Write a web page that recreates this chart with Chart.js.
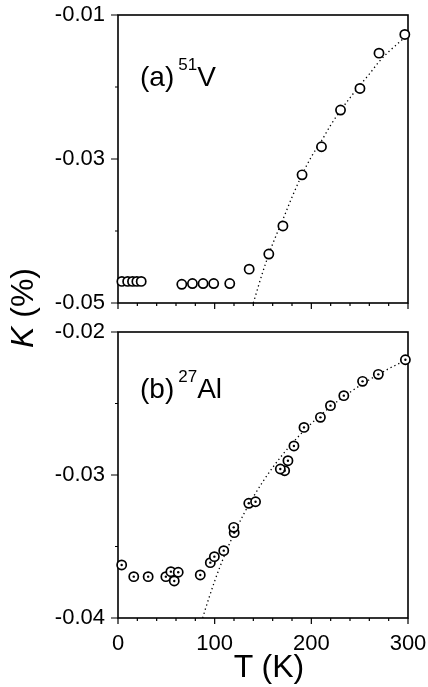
<!DOCTYPE html>
<html>
<head>
<meta charset="utf-8">
<script src="https://cdn.jsdelivr.net/npm/chart.js@4.4.1/dist/chart.umd.min.js"></script>
<style>
  html, body { margin: 0; padding: 0; background: #fff; }
  body { width: 428px; height: 687px; position: relative; overflow: hidden;
         font-family: 'Liberation Sans', Arial, sans-serif; color: #000; }
  canvas { position: absolute; left: 0; }
  .panel-label { position: absolute; font-size: 28px; line-height: 28px; white-space: nowrap; }
  .panel-label span { font-size: 17px; vertical-align: 16px; line-height: 0; margin-left: 4px; }
  .axis-title { position: absolute; font-size: 32px; line-height: 40px; height: 40px;
                text-align: center; white-space: nowrap; }
</style>
</head>
<body>
<canvas id="panelV" width="428" height="318" style="top:0"></canvas>
<canvas id="panelAl" width="428" height="369" style="top:318px"></canvas>

<div class="panel-label" style="left:140px; top:63px">(a)<span>51</span>V</div>
<div class="panel-label" style="left:140px; top:375px">(b)<span>27</span>Al</div>
<div class="axis-title" style="left:-38px; top:288px; width:120px; transform:rotate(-90deg)"><i>K</i> (%)</div>
<div class="axis-title" style="left:209px; top:646px; width:120px">T (K)</div>

<script>
// (a) 51V
const tempV = [4, 10, 15, 19.5, 24, 66, 77, 88, 99, 115.6, 135.7, 156, 170.6, 190.4, 210.5, 230.2, 250.3, 270, 296.7];
const shiftV = [-0.0470, -0.0470, -0.0470, -0.0470, -0.0470, -0.0474, -0.0473, -0.0473, -0.0473, -0.0473,
                -0.0453, -0.0432, -0.0393, -0.0322, -0.0283, -0.0232, -0.0202, -0.0153, -0.0127];
const fitTempV = [140, 150, 160, 170, 180, 190, 200, 210, 220, 230, 240, 250, 260, 270, 280, 290, 300];
const fitShiftV = [-0.0500, -0.0456, -0.0418, -0.0386, -0.0353, -0.0323, -0.0297, -0.0276, -0.0253, -0.0233,
                   -0.0215, -0.0198, -0.0182, -0.0165, -0.0151, -0.0139, -0.0127];

// (b) 27Al
const tempAl = [3.8, 16.3, 31.2, 49.5, 54.7, 58.2, 62.3, 85.1, 95.5, 99.7, 109.4, 120.2, 119.7, 135.3, 142.3,
                172.4, 167.9, 175.8, 182, 192.4, 209.4, 219.8, 233.6, 253, 269.3, 297.3];
const shiftAl = [-0.03629, -0.03711, -0.03711, -0.03711, -0.03676, -0.03741, -0.03680, -0.03699, -0.03613, -0.03571,
                 -0.03529, -0.03403, -0.03366, -0.03198, -0.03187, -0.02970, -0.02958, -0.02900, -0.02797, -0.02667,
                 -0.02597, -0.02515, -0.02445, -0.02345, -0.02296, -0.02194];
const fitTempAl = [87.6, 90, 100, 110, 120, 130, 140, 150, 160, 170, 180, 190, 200, 220, 240, 260, 280, 300];
const fitShiftAl = [-0.0400, -0.03946, -0.03742, -0.03565, -0.03410, -0.03274, -0.03153, -0.03045, -0.02948,
                    -0.02860, -0.02780, -0.02707, -0.02640, -0.02522, -0.02421, -0.02334, -0.02257, -0.02190];

// ticks
const tempTicks = [0, 100, 200, 300];
const shiftTicksV = [-0.05, -0.03, -0.01];
const shiftTicksAl = [-0.04, -0.03, -0.02];

function isMajor(value, list) {
  return list.some((m) => Math.abs(m - value) < 1e-9);
}

const frameTicks = {
  id: 'frameTicks',
  beforeDatasetsDraw(chart, args, opts) {
    const { ctx, chartArea: a, scales } = chart;
    ctx.save();
    ctx.strokeStyle = '#000';
    ctx.lineWidth = 1.6;
    ctx.strokeRect(a.left, a.top, a.right - a.left, a.bottom - a.top);
    ctx.lineWidth = 1.2;
    ctx.beginPath();
    scales.x.ticks.forEach((t) => {
      const px = scales.x.getPixelForValue(t.value);
      const len = isMajor(t.value, opts.xMajor) ? 6 : 3;
      ctx.moveTo(px, a.bottom);
      ctx.lineTo(px, a.bottom + len);
    });
    scales.y.ticks.forEach((t) => {
      const py = scales.y.getPixelForValue(t.value);
      const len = isMajor(t.value, opts.yMajor) ? 7 : 3;
      ctx.moveTo(a.left - len, py);
      ctx.lineTo(a.left, py);
    });
    ctx.stroke();
    ctx.restore();
  },
};

class ShiftPanel {
  constructor(canvas, settings) {
    this.canvas = canvas;
    this.settings = settings;
    this.createChart();
  }

  createChart() {
    const s = this.settings;
    const points = s.temps.map((t, i) => ({ x: t, y: s.shifts[i] }));
    const fit = s.fitTemps.map((t, i) => ({ x: t, y: s.fitShifts[i] }));
    const tickFont = { size: 22, family: "'Liberation Sans', Arial, sans-serif" };

    const datasets = [
      {
        data: points,
        pointStyle: 'circle',
        pointRadius: 4.6,
        pointBorderWidth: 1.7,
        pointBackgroundColor: '#fff',
        pointBorderColor: '#000',
        showLine: false,
        clip: false,
        order: 0,
      },
      {
        data: fit,
        showLine: true,
        pointRadius: 0,
        borderColor: '#000',
        borderWidth: 1.3,
        borderDash: [1.3, 3],
        cubicInterpolationMode: 'monotone',
        order: 1,
      },
    ];

    // centre dots for the Al markers
    if (s.dotted) {
      datasets.push({
        data: points,
        pointStyle: 'circle',
        pointRadius: 1.2,
        pointBorderWidth: 0,
        pointBackgroundColor: '#000',
        showLine: false,
        clip: false,
        order: -1,
      });
    }

    const options = {
      responsive: false,
      animation: false,
      events: [],
      devicePixelRatio: 1,
      layout: { padding: { top: s.top, right: 20, left: 0, bottom: 0 } },
      plugins: {
        legend: { display: false },
        tooltip: { enabled: false },
        frameTicks: { xMajor: tempTicks, yMajor: s.yMajor },
      },
      scales: {
        x: {
          type: 'linear',
          min: 0,
          max: 300,
          grid: { display: false, drawTicks: false },
          border: { display: false },
          ticks: {
            display: s.showX,
            stepSize: 20,
            padding: 13,
            color: '#000',
            maxRotation: 0,
            autoSkip: false,
            font: tickFont,
            callback: (v) => (isMajor(v, tempTicks) ? String(v) : ''),
          },
          afterFit: (scale) => {
            scale.height = s.xHeight;
            scale.paddingLeft = 0;
            scale.paddingRight = 0;
          },
        },
        y: {
          type: 'linear',
          min: s.yMin,
          max: s.yMax,
          grid: { display: false, drawTicks: false },
          border: { display: false },
          ticks: {
            stepSize: s.yStep,
            padding: 13,
            color: '#000',
            autoSkip: false,
            font: tickFont,
            callback: (v) => (isMajor(v, s.yMajor) ? v.toFixed(2) : ''),
          },
          afterFit: (scale) => {
            scale.width = 118;
            scale.paddingTop = 0;
            scale.paddingBottom = 0;
          },
        },
      },
    };

    return new Chart(this.canvas, { type: 'scatter', data: { datasets }, options, plugins: [frameTicks] });
  }
}

new ShiftPanel(document.getElementById('panelV'), {
  temps: tempV,
  shifts: shiftV,
  fitTemps: fitTempV,
  fitShifts: fitShiftV,
  dotted: false,
  yMin: -0.05,
  yMax: -0.01,
  yStep: 0.01,
  yMajor: shiftTicksV,
  top: 15,
  xHeight: 15,
  showX: false,
});

new ShiftPanel(document.getElementById('panelAl'), {
  temps: tempAl,
  shifts: shiftAl,
  fitTemps: fitTempAl,
  fitShifts: fitShiftAl,
  dotted: true,
  yMin: -0.04,
  yMax: -0.02,
  yStep: 0.005,
  yMajor: shiftTicksAl,
  top: 14,
  xHeight: 69,
  showX: true,
});
</script>
</body>
</html>
